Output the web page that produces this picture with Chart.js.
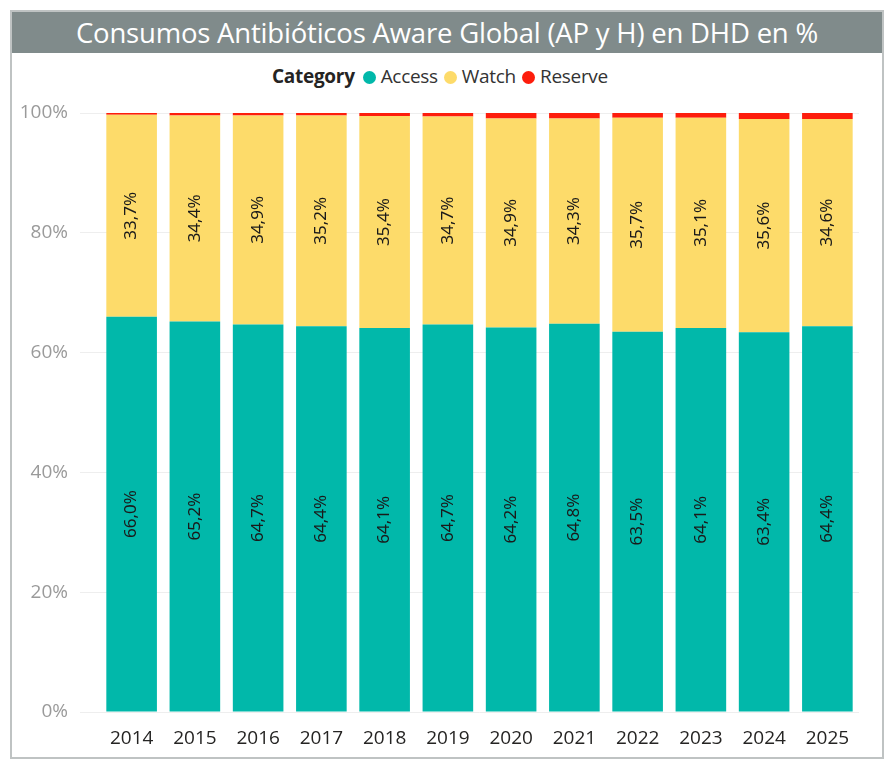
<!DOCTYPE html>
<html>
<head>
<meta charset="utf-8">
<script src="https://cdn.jsdelivr.net/npm/chart.js@4"></script>
<style>
  html, body { margin: 0; padding: 0; background: #fff; }
  body { width: 886px; height: 765px; position: relative; overflow: hidden; font-family: "Open Sans", "Noto Sans", sans-serif; }
  .frame { position: absolute; left: 10px; top: 10px; width: 870px; height: 745px; border: 2px solid #bfc3c3; box-sizing: content-box; }
  .titleBar { position: absolute; left: 0; top: 0; right: 0; height: 41px; background: #808b8b; color: #fff; font-size: 27.5px; text-align: center; line-height: 41px; letter-spacing: -0.2px; }
  .legend { position: absolute; left: 0; right: 0; top: 63px; text-align: center; font-size: 19px; color: #333; letter-spacing: -0.3px; }
  .legend b { margin-right: 8px; color: #252423; }
  .legend span.item { margin-right: 6px; }
  .legend i { display: inline-block; width: 13px; height: 13px; border-radius: 50%; margin-right: 5px; vertical-align: -1px; }
  canvas.myChart { position: absolute; left: 0; top: 0; }
</style>
</head>
<body>
<div class="frame">
  <div class="titleBar">Consumos Antibióticos Aware Global (AP y H) en DHD en %</div>
</div>
<div class="legend"></div>
<canvas class="myChart" width="886" height="765"></canvas>
<script>
const years = ["2014", "2015", "2016", "2017", "2018", "2019", "2020", "2021", "2022", "2023", "2024", "2025"];
const access = [66.0, 65.2, 64.7, 64.4, 64.1, 64.7, 64.2, 64.8, 63.5, 64.1, 63.4, 64.4];
const watch = [33.7, 34.4, 34.9, 35.2, 35.4, 34.7, 34.9, 34.3, 35.7, 35.1, 35.6, 34.6];
const reserve = [0.3, 0.4, 0.4, 0.4, 0.5, 0.6, 0.9, 0.9, 0.8, 0.8, 1.0, 1.0];
const yTicks = [0, 20, 40, 60, 80, 100];

const colors = ["#01b8aa", "#fddb6a", "#fd1d0c"];

// labels rotated inside the Access and Watch segments
const barLabels = {
  id: "barLabels",
  afterDatasetsDraw(chart) {
    const ctx = chart.ctx;
    ctx.save();
    ctx.font = "17px 'Liberation Sans Narrow', 'Noto Sans', sans-serif";
    ctx.fillStyle = "#1a1a1a";
    ctx.textAlign = "center";
    ctx.textBaseline = "middle";
    [0, 1].forEach((di) => {
      const meta = chart.getDatasetMeta(di);
      meta.data.forEach((bar, i) => {
        const v = chart.data.datasets[di].data[i];
        const y = (bar.y + bar.base) / 2;
        ctx.save();
        ctx.translate(bar.x, y);
        ctx.rotate(-Math.PI / 2);
        ctx.fillText(v.toFixed(1).replace(".", ",") + "%", 0, 0);
        ctx.restore();
      });
    });
    ctx.restore();
  },
};

const ctx = document.querySelector(".myChart");
const chart = new Chart(ctx, {
  type: "bar",
  data: {
    labels: years,
    datasets: [
      { label: "Access", data: access, backgroundColor: colors[0] },
      { label: "Watch", data: watch, backgroundColor: colors[1] },
      { label: "Reserve", data: reserve, backgroundColor: colors[2] },
    ],
  },
  options: {
    responsive: false,
    animation: false,
    layout: { padding: { left: 0, right: 27, top: 113, bottom: 0 } },
    datasets: { bar: { barPercentage: 0.8, categoryPercentage: 1.0 } },
    plugins: { legend: { display: false }, tooltip: { enabled: false } },
    scales: {
      x: {
        stacked: true,
        grid: { display: false },
        border: { display: false },
        ticks: { color: "#252423", font: { size: 19, family: "'Open Sans', sans-serif" }, padding: 7 },
        afterFit: (s) => { s.height = 53; },
      },
      y: {
        stacked: true,
        min: 0,
        max: 100,
        afterBuildTicks: (s) => { s.ticks = yTicks.map((v) => ({ value: v })); },
        afterFit: (s) => { s.width = 100; },
        grid: { color: "#eeeeee", tickLength: 20, drawTicks: true },
        border: { display: false },
        ticks: {
          color: "#9a9a9a",
          padding: 12,
          font: { size: 19, family: "'Open Sans', sans-serif" },
          callback: (v) => v + "%",
        },
      },
    },
  },
  plugins: [barLabels],
});

const legend = document.querySelector(".legend");
legend.innerHTML = "<b>Category</b>" + chart.data.datasets
  .map((d) => '<span class="item"><i style="background:' + d.backgroundColor + '"></i>' + d.label + "</span>")
  .join("");
</script>
</body>
</html>
